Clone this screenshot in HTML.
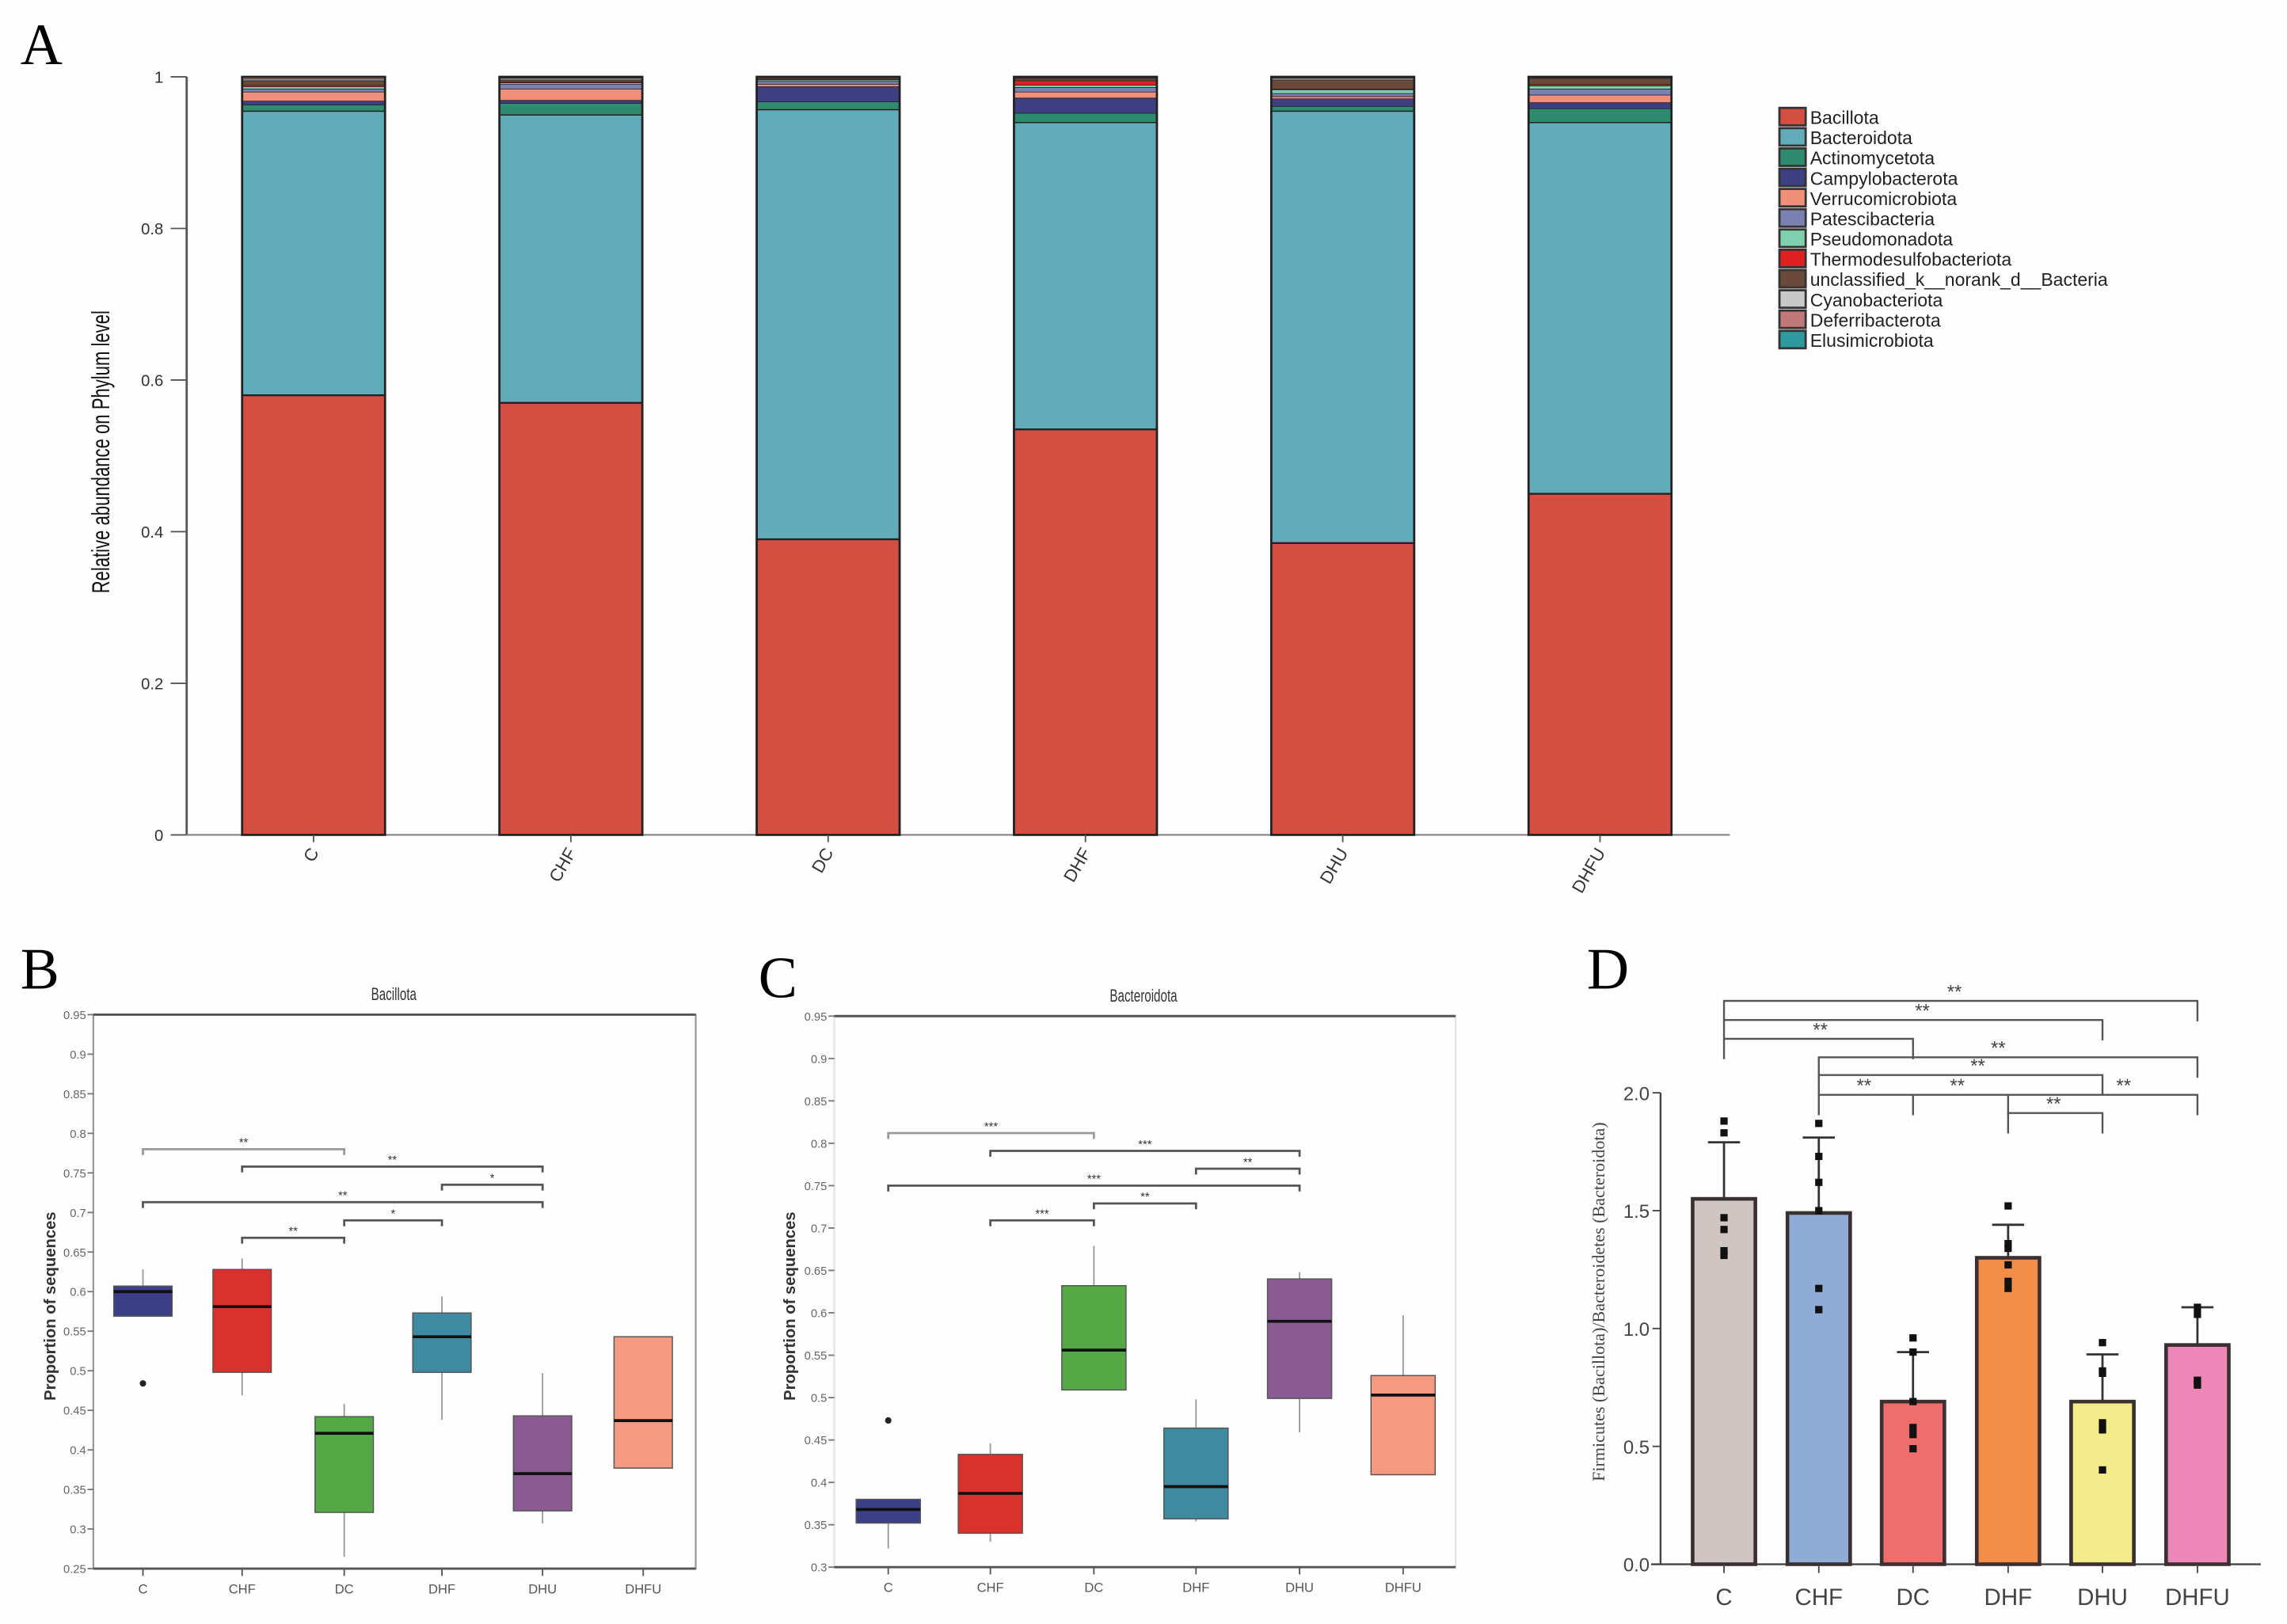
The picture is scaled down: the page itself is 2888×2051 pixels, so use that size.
<!DOCTYPE html>
<html><head><meta charset="utf-8"><style>
html,body{margin:0;padding:0;background:#fff;}
svg{display:block;}
</style></head><body>
<svg id="fig" width="2888" height="2051" viewBox="0 0 1568 1114" preserveAspectRatio="none" xmlns="http://www.w3.org/2000/svg" font-family="Liberation Sans, sans-serif">
<rect width="1568" height="1114" fill="#fefefe"/>
<g id="pA"></g>
<g id="pB"></g>
<g id="pC"></g>
<g id="pD"></g>
</svg>
<script>
// ---------- Panel A data ----------
const groupsA = ["C","CHF","DC","DHF","DHU","DHFU"];
const phyla = ["Bacillota","Bacteroidota","Actinomycetota","Campylobacterota","Verrucomicrobiota","Patescibacteria","Pseudomonadota","Thermodesulfobacteriota","unclassified_k__norank_d__Bacteria","Cyanobacteriota","Deferribacterota","Elusimicrobiota"];
const phylaColors = ["#d44f42","#62abb8","#2e8b6e","#3e3f80","#f0907a","#7a80b0","#7fd0b0","#e02020","#6a4a3a","#c8c8c8","#c07878","#2e9aa0"];
const bacillota = [0.58,0.57,0.39,0.535,0.385,0.45];
const bacteroidota = [0.375,0.38,0.567,0.405,0.57,0.49];
const actino = [0.008,0.015,0.01,0.012,0.006,0.018];
const campy = [0.005,0.004,0.02,0.02,0.01,0.008];
const verruco = [0.012,0.015,0.003,0.008,0.003,0.01];
const patesci = [0.004,0.006,0.004,0.006,0.004,0.008];
const pseudo = [0.003,0.002,0.002,0.003,0.005,0.004];
const thermo = [0.002,0.001,0.001,0.006,0.001,0.002];
const unclass = [0.006,0.003,0.002,0.003,0.012,0.008];
const cyano = [0.002,0.002,0.0005,0.001,0.002,0.001];
const deferri = [0.002,0.001,0.0003,0.0005,0.001,0.0005];
const elusi = [0.001,0.001,0.0002,0.0005,0.001,0.0005];
const ticksA = [0,0.2,0.4,0.6,0.8,1];
const tickLabelsA = ["0","0.2","0.4","0.6","0.8","1"];

// ---------- Panel B data ----------
const groupsB = ["C","CHF","DC","DHF","DHU","DHFU"];
const bQ3 = [0.607,0.628,0.442,0.573,0.443,0.543];
const bMed = [0.600,0.581,0.421,0.543,0.370,0.437];
const bQ1 = [0.569,0.498,0.321,0.498,0.323,0.377];
const bHi = [0.628,0.642,0.458,0.594,0.497,0.543];
const bLo = [0.569,0.469,0.265,0.438,0.307,0.377];
const bOut = [0.484,null,null,null,null,null];
const ticksB = [0.25,0.3,0.35,0.4,0.45,0.5,0.55,0.6,0.65,0.7,0.75,0.8,0.85,0.9,0.95];
const sigB_from = [0,1,3,0,2,1];
const sigB_to = [2,4,4,4,3,2];
const sigB_y = [0.78,0.758,0.735,0.713,0.69,0.668];
const sigB_label = ["**","**","*","**","*","**"];

// ---------- Panel C data ----------
const groupsC = ["C","CHF","DC","DHF","DHU","DHFU"];
const cQ3 = [0.380,0.433,0.632,0.464,0.640,0.526];
const cMed = [0.368,0.387,0.556,0.395,0.590,0.503];
const cQ1 = [0.352,0.340,0.509,0.357,0.499,0.409];
const cHi = [0.380,0.446,0.679,0.498,0.648,0.597];
const cLo = [0.322,0.330,0.509,0.354,0.459,0.409];
const cOut = [0.473,null,null,null,null,null];
const ticksC = [0.3,0.35,0.4,0.45,0.5,0.55,0.6,0.65,0.7,0.75,0.8,0.85,0.9,0.95];
const sigC_from = [0,1,3,0,2,1];
const sigC_to = [2,4,4,4,3,2];
const sigC_y = [0.812,0.791,0.770,0.750,0.729,0.709];
const sigC_label = ["***","***","**","***","**","***"];

// ---------- Panel D data ----------
const groupsD = ["C","CHF","DC","DHF","DHU","DHFU"];
const dMean = [1.55,1.49,0.69,1.30,0.69,0.93];
const dErr = [1.79,1.81,0.90,1.44,0.89,1.09];
const dPts = [[1.88,1.83,1.47,1.42,1.33,1.31],[1.87,1.73,1.62,1.50,1.17,1.08],[0.96,0.90,0.69,0.58,0.55,0.49],[1.52,1.36,1.34,1.27,1.20,1.17],[0.94,0.82,0.81,0.60,0.57,0.40],[1.09,1.06,0.78,0.77,0.76,0.78]];
const dColors = ["#cfc6c4","#8facd6","#ee6e6e","#f38d4a","#f3ec8c","#ec87b8"];
const ticksD = [0,0.5,1.0,1.5,2.0];
const tickLabelsD = ["0.0","0.5","1.0","1.5","2.0"];

const NS="http://www.w3.org/2000/svg";
function mk(parent,tag,attrs,txt){const e=document.createElementNS(NS,tag);for(const k in attrs)e.setAttribute(k,attrs[k]);if(txt!==undefined)e.textContent=txt;parent.appendChild(e);return e;}
const SERIF='Liberation Serif, serif';

// ===== Panel A =====
(function(){
const g=document.getElementById('pA');
const yA=v=>572.7-520*v;
const xA=i=>166+i*176.4;
const bw=98;
let t=mk(g,'text',{x:14,y:44,'font-size':40,'font-family':SERIF},'A');

let ax=mk(g,'line',{x1:128,y1:yA(1),x2:128,y2:yA(0),stroke:'#555','stroke-width':1.5});

let xl=mk(g,'line',{x1:128,y1:yA(0),x2:1186,y2:yA(0),stroke:'#888','stroke-width':1.2});

ticksA.forEach((v,i)=>{
 mk(g,'line',{x1:117,y1:yA(v),x2:128,y2:yA(v),stroke:'#555','stroke-width':1});
 let tl=mk(g,'text',{x:112,y:yA(v)+4,'font-size':11,'text-anchor':'end',fill:'#333'},tickLabelsA[i]);
 
});
let yt=mk(g,'text',{x:0,y:0,'font-size':15,'text-anchor':'middle',fill:'#111',transform:'translate(75,310) rotate(-90) scale(0.8,1.15)'},'Relative abundance on Phylum level');

const series=[bacillota,bacteroidota,actino,campy,verruco,patesci,pseudo,thermo,unclass,cyano,deferri,elusi];
groupsA.forEach((gr,i)=>{
 let cum=0;
 series.forEach((s,j)=>{
  const v=s[i];
  const r=mk(g,'rect',{x:xA(i),y:yA(cum+v),width:bw,height:yA(cum)-yA(cum+v),fill:phylaColors[j],stroke:'#222','stroke-width':j<2?1.2:0.4});
  
  
  cum+=v;
 });
 const rest=1-cum;
 if(rest>0){const r=mk(g,'rect',{x:xA(i),y:yA(1),width:bw,height:yA(cum)-yA(1),fill:'#111'});
  }
 mk(g,'rect',{x:xA(i),y:yA(1),width:bw,height:yA(0)-yA(1),fill:'none',stroke:'#222','stroke-width':1.5});
 const cx=xA(i)+bw/2;
 mk(g,'line',{x1:cx,y1:yA(0),x2:cx,y2:yA(0)+5,stroke:'#555'});
 let lb=mk(g,'text',{x:0,y:0,'font-size':12,'text-anchor':'end',fill:'#333',transform:`translate(${cx+4},${yA(0)+12}) rotate(-60)`},gr);
 
});
phyla.forEach((p,j)=>{
 const y=74+j*13.9;
 const sw=mk(g,'rect',{x:1220,y:y,width:18,height:12,fill:phylaColors[j],stroke:'#333','stroke-width':1.5});
 
 const lt=mk(g,'text',{x:1241,y:y+11,'font-size':12.5,fill:'#222'},p);
 
});
})();

// ===== Box plot helper =====
function boxPanel(gid,opt){
 const g=document.getElementById(gid);
 const y=v=>opt.y0-(v-opt.vmin)/(opt.vmax-opt.vmin)*(opt.y0-opt.y1);
 const x=i=>opt.xs[i];
 let L=mk(g,'text',{x:opt.letterX,y:opt.letterY,'font-size':40,'font-family':SERIF},opt.letter);
 
 let ti=mk(g,'text',{x:opt.titleX,y:opt.y1-10,'font-size':11,'text-anchor':'middle',fill:'#333',transform:`translate(${opt.titleX},${opt.y1-10}) scale(0.75,1.1) translate(${-opt.titleX},${-(opt.y1-10)})`},opt.title);
 
 let fr=mk(g,'rect',{x:opt.left,y:opt.y1,width:opt.right-opt.left,height:opt.y0-opt.y1,fill:'#fefefe',stroke:opt.frameStroke,'stroke-width':1.2});
 
 mk(g,'line',{x1:opt.left,y1:opt.y1,x2:opt.right,y2:opt.y1,stroke:'#555','stroke-width':1.6});
 mk(g,'line',{x1:opt.left,y1:opt.y0,x2:opt.right,y2:opt.y0,stroke:'#555','stroke-width':1.6});
 opt.ticks.forEach(v=>{
  mk(g,'line',{x1:opt.left-4,y1:y(v),x2:opt.left,y2:y(v),stroke:'#777'});
  const tl=mk(g,'text',{x:opt.left-5,y:y(v)+3,'font-size':8,'text-anchor':'end',fill:'#666'},String(v));
  
 });
 const yt=mk(g,'text',{x:0,y:0,'font-size':11,'font-weight':'bold','text-anchor':'middle',fill:'#333',transform:`translate(${opt.ytX},${(opt.y0+opt.y1)/2+10}) rotate(-90)`},'Proportion of sequences');
 
 const bw=opt.bw;
 opt.groups.forEach((gr,i)=>{
  const cx=x(i);
  mk(g,'line',{x1:cx,y1:opt.y0,x2:cx,y2:opt.y0+5,stroke:'#555'});
  const lb=mk(g,'text',{x:cx,y:opt.y0+17,'font-size':9,'text-anchor':'middle',fill:'#555'},gr);
  
  mk(g,'line',{x1:cx,y1:y(opt.hi[i]),x2:cx,y2:y(opt.lo[i]),stroke:'#999','stroke-width':1});
  const b=mk(g,'rect',{x:cx-bw/2,y:y(opt.q3[i]),width:bw,height:y(opt.q1[i])-y(opt.q3[i]),fill:opt.colors[i],stroke:'#555','stroke-width':0.8});
  
  const m=mk(g,'line',{x1:cx-bw/2,y1:y(opt.med[i]),x2:cx+bw/2,y2:y(opt.med[i]),stroke:'#111','stroke-width':2});
  
  if(opt.out[i]!==null){const o=mk(g,'circle',{cx:cx,cy:y(opt.out[i]),r:2.2,fill:'#222'});}
 });
 opt.sFrom.forEach((f,k)=>{
  const yy=y(opt.sY[k]);
  const b=mk(g,'path',{d:`M${x(f)},${yy+4}V${yy}H${x(opt.sTo[k])}V${yy+4}`,fill:'none',stroke:k==0?'#999':'#555','stroke-width':1.5});
  
  const st=mk(g,'text',{x:(x(f)+x(opt.sTo[k]))/2,y:yy-2,'font-size':8,'text-anchor':'middle',fill:'#333'},opt.sL[k]);
  
 });
}
const boxColors=["#3b3f86","#d9322c","#55a846","#3f8aa0","#8a5a92","#f49a80"];
boxPanel('pB',{letter:'B',letterX:14,letterY:678,title:'Bacillota',titleX:270,left:64,right:477,y1:696,y0:1076,vmin:0.25,vmax:0.95,frameStroke:'#999',
 xs:[98,166,236,303,372,441],bw:40,ticks:ticksB,ytX:38,groups:groupsB,q3:bQ3,med:bMed,q1:bQ1,hi:bHi,lo:bLo,out:bOut,colors:boxColors,
 sFrom:sigB_from,sTo:sigB_to,sY:sigB_y,sL:sigB_label});
boxPanel('pC',{letter:'C',letterX:520,letterY:684,title:'Bacteroidota',titleX:784,left:572,right:998,y1:697,y0:1075,vmin:0.3,vmax:0.95,frameStroke:'#e4e4e4',
 xs:[609,679,750,820,891,962],bw:44,ticks:ticksC,ytX:545,groups:groupsC,q3:cQ3,med:cMed,q1:cQ1,hi:cHi,lo:cLo,out:cOut,colors:boxColors,
 sFrom:sigC_from,sTo:sigC_to,sY:sigC_y,sL:sigC_label});

// ===== Panel D =====
(function(){
const g=document.getElementById('pD');
const y=v=>1073-161.7*v;
const xs=[1182,1247,1311.6,1376.8,1441.5,1506.6];
const x=i=>xs[i];
const bw=43;
let L=mk(g,'text',{x:1088,y:678,'font-size':40,'font-family':SERIF},'D');

mk(g,'line',{x1:1138.5,y1:y(2),x2:1138.5,y2:y(0),stroke:'#444','stroke-width':1.3});
mk(g,'line',{x1:1132,y1:y(0),x2:1550,y2:y(0),stroke:'#444','stroke-width':1.3});
ticksD.forEach((v,i)=>{
 mk(g,'line',{x1:1133,y1:y(v),x2:1138.5,y2:y(v),stroke:'#444'});
 const tl=mk(g,'text',{x:1131,y:y(v)+5,'font-size':13,'text-anchor':'end',fill:'#444'},tickLabelsD[i]);
 
});
const yt=mk(g,'text',{x:0,y:0,'font-size':12,'text-anchor':'middle',fill:'#444','font-family':SERIF,transform:'translate(1100,893) rotate(-90)'},'Firmicutes (Bacillota)/Bacteroidetes (Bacteroidota)');

groupsD.forEach((gr,i)=>{
 const cx=x(i);
 const b=mk(g,'rect',{x:cx-bw/2,y:y(dMean[i]),width:bw,height:y(0)-y(dMean[i]),fill:dColors[i],stroke:'#3a3030','stroke-width':2.5});
 
 const e=mk(g,'path',{d:`M${cx},${y(dMean[i])}V${y(dErr[i])}M${cx-11},${y(dErr[i])}H${cx+11}`,stroke:'#333','stroke-width':1.5,fill:'none'});
 
 dPts[i].forEach(p=>{const c=mk(g,'rect',{x:cx-2.5,y:y(p)-2.5,width:5,height:5,fill:'#111'});});
 mk(g,'line',{x1:cx,y1:y(0),x2:cx,y2:y(0)+6,stroke:'#444'});
 const lb=mk(g,'text',{x:cx,y:1101,'font-size':16,'text-anchor':'middle',fill:'#444'},gr);
 
});
const br=[[0,5,686.6,1340],[0,4,699.7,1318],[0,2,712.6,1248],[1,5,725.3,1370],[1,4,737.4,1356],[3,4,763.5,1408]];
br.forEach(b=>{
 const p=mk(g,'path',{d:`M${x(b[0])},${b[2]+14}V${b[2]}H${x(b[1])}V${b[2]+14}`,fill:'none',stroke:'#555','stroke-width':1.3});
 
 const t=mk(g,'text',{x:b[3],y:b[2]-2,'font-size':13,'text-anchor':'middle',fill:'#444'},'**');
 
});
const p=mk(g,'path',{d:`M${x(1)},${751+14}V751H${x(5)}V${751+14}M${x(2)},751V${751+14}M${x(3)},751V${751+14}`,fill:'none',stroke:'#555','stroke-width':1.3});

[[1278,'**'],[1342,'**'],[1456,'**']].forEach(s=>{const t=mk(g,'text',{x:s[0],y:749,'font-size':13,'text-anchor':'middle',fill:'#444'},s[1]);});
})();
</script>
</body></html>
